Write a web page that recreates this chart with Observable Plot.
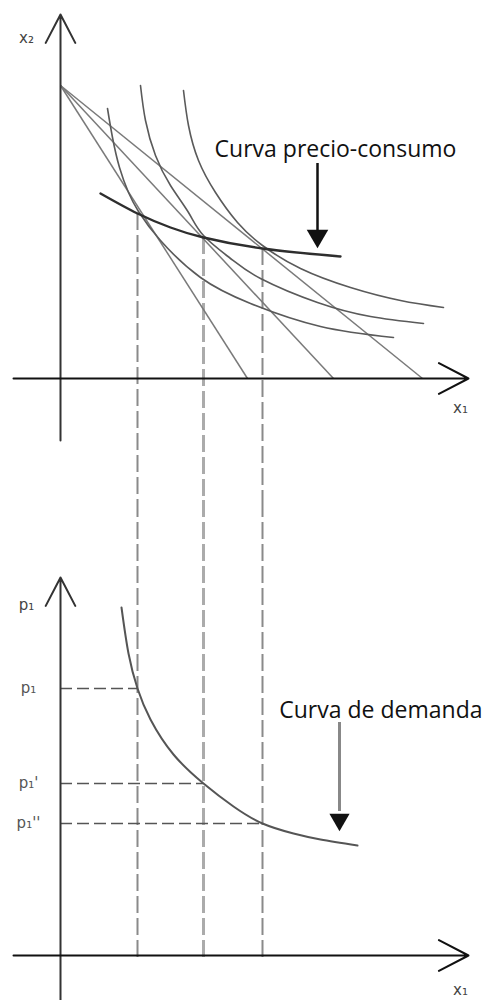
<!DOCTYPE html>
<html><head><meta charset="utf-8">
<script src="https://cdn.jsdelivr.net/npm/d3@7"></script>
<script src="https://cdn.jsdelivr.net/npm/@observablehq/plot@0.6"></script>
<style>body{margin:0;background:#fff} #chart svg{display:block}</style>
</head><body><div id="chart"></div>
<script>
// ---- data (abstract units: x1 quantity, x2 quantity, p1 price) ----
const budgetTop = 14.65;                 // x2 intercept common to all budget lines
const budgetEnds = [9.35, 13.65, 18.1];  // x1 intercepts (p1, p1', p1'')
const indiff1 = [[2.35,13.5],[2.6,12.05],[2.95,10.55],[3.4,9.3],[3.9,8.35],[5.0,6.9],[7.0,5.05],[9.5,3.75],[13.0,2.6],[16.65,2.05]];
const indiff2 = [[4.0,14.65],[4.25,12.9],[4.75,11.15],[5.5,9.65],[6.4,8.3],[7.15,7.15],[8.5,6.0],[10.0,5.0],[12.85,3.8],[15.5,3.1],[18.15,2.75]];
const indiff3 = [[6.15,14.4],[6.4,12.65],[6.9,10.9],[7.75,9.3],[8.85,7.8],[10.1,6.65],[12.0,5.5],[14.5,4.55],[17.0,3.9],[19.15,3.55]];
const pcc = [[2.0,9.25],[3.85,8.25],[5.5,7.55],[7.15,7.05],[10.1,6.5],[14.0,6.1]];
const tangX = [3.85, 7.15, 10.1];
const tangY = [8.25, 7.05, 6.5];
const demand = [[3.05,17.4],[3.4,15.1],[3.85,13.35],[4.5,11.8],[5.65,10.05],[7.15,8.6],[8.65,7.45],[10.1,6.6],[11.65,6.1],[13.0,5.8],[14.85,5.5]];
const prices = [13.35, 8.6, 6.6];
const priceLabels = ["p₁", "p₁'", "p₁''"];
const axisLabelsTop = [{x:-1.7, y:17.0, t:"x₂"}, {x:20.0, y:-1.5, t:"x₁"}];
const axisLabelsBottom = [{x:-1.7, y:17.5, t:"p₁"}, {x:20.0, y:-1.75, t:"x₁"}];
const notes = [{x:13.75, y:11.42, t:"Curva precio-consumo"}];
const notes2 = [{x:21.1, y:12.22, t:"Curva de demanda"}];
const pointer1 = {x:12.85, y1:10.75, y2:7.3, head:7.13};
const pointer2 = {x:13.95, y1:11.65, y2:7.2, head:6.79};

const W = 485, H = 500;
const xDom = [-3, 21.25];
const dashStroke = ["#8a8a8a", "#ababab", "#8a8a8a"];
const dashWidth = [2, 3, 2];
const xy = a => a.map(([x, y]) => ({x, y}));
const labelFont = "DejaVu Sans";

const topPlot = Plot.plot({
  width: W, height: H, margin: 0,
  x: {domain: xDom, axis: null},
  y: {domain: [-6.1, 18.9], axis: null},
  marks: [
    ...tangX.map((tx, i) => Plot.ruleX([tx], {y1: tangY[i], y2: -6.1, stroke: dashStroke[i], strokeWidth: dashWidth[i], strokeDasharray: "17,5"})),
    Plot.link(budgetEnds, {x1: 0, y1: budgetTop, x2: d => d, y2: 0, stroke: "#7a7a7a", strokeWidth: 1.5}),
    ...[indiff1, indiff2, indiff3].map(c => Plot.line(xy(c), {x: "x", y: "y", curve: "natural", stroke: "#5a5a5a", strokeWidth: 1.6})),
    Plot.line(xy(pcc), {x: "x", y: "y", curve: "natural", stroke: "#2e2e2e", strokeWidth: 2.4}),
    Plot.arrow([{x1: 0, y1: -3.1, x2: 0, y2: 18.2}], {x1: "x1", y1: "y1", x2: "x2", y2: "y2", stroke: "#333", strokeWidth: 2, headLength: 24, headAngle: 55}),
    Plot.arrow([{x1: -2.35, y1: 0, x2: 20.4, y2: 0}], {x1: "x1", y1: "y1", x2: "x2", y2: "y2", stroke: "#111", strokeWidth: 2, headLength: 25, headAngle: 55}),
    Plot.ruleX([pointer1], {x: "x", y1: "y1", y2: "y2", stroke: "#111", strokeWidth: 2.5}),
    Plot.dot([pointer1], {x: "x", y: "head", symbol: "triangle", r: 8, rotate: 180, fill: "#111", stroke: "none"}),
    Plot.text(notes, {x: "x", y: "y", text: "t", fontSize: 23, fontFamily: "Open Sans", fill: "#111"}),
    Plot.text(axisLabelsTop, {x: "x", y: "y", text: "t", fontSize: 15, fontFamily: labelFont, fill: "#444"})
  ]
});

const bottomPlot = Plot.plot({
  width: W, height: H, margin: 0,
  x: {domain: xDom, axis: null},
  y: {domain: [-2.25, 22.75], axis: null},
  marks: [
    ...tangX.map((tx, i) => Plot.ruleX([tx], {y1: 22.75, y2: -0.35, stroke: dashStroke[i], strokeWidth: dashWidth[i], strokeDasharray: "17,5"})),
    Plot.ruleY(prices, {y: d => d, x1: 0, x2: (d, i) => tangX[i], stroke: "#555", strokeWidth: 1.6, strokeDasharray: "12,5"}),
    Plot.line(xy(demand), {x: "x", y: "y", curve: "natural", stroke: "#555", strokeWidth: 2}),
    Plot.arrow([{x1: 0, y1: -2.3, x2: 0, y2: 18.9}], {x1: "x1", y1: "y1", x2: "x2", y2: "y2", stroke: "#333", strokeWidth: 2, headLength: 24, headAngle: 55}),
    Plot.arrow([{x1: -2.35, y1: 0, x2: 20.4, y2: 0}], {x1: "x1", y1: "y1", x2: "x2", y2: "y2", stroke: "#111", strokeWidth: 2, headLength: 25, headAngle: 55}),
    Plot.ruleX([pointer2], {x: "x", y1: "y1", y2: "y2", stroke: "#888", strokeWidth: 3}),
    Plot.dot([pointer2], {x: "x", y: "head", symbol: "triangle", r: 7.5, rotate: 180, fill: "#111", stroke: "none"}),
    Plot.text(notes2, {x: "x", y: "y", text: "t", fontSize: 23, fontFamily: "Open Sans", fill: "#111", textAnchor: "end"}),
    Plot.text(prices, {x: -1.6, y: d => d, text: (d, i) => priceLabels[i], fontSize: 15, fontFamily: labelFont, fill: "#555"}),
    Plot.text(axisLabelsBottom, {x: "x", y: "y", text: "t", fontSize: 15, fontFamily: labelFont, fill: "#444"})
  ]
});

const chart = document.getElementById("chart");
chart.append(topPlot, bottomPlot);
</script>
</body></html>
